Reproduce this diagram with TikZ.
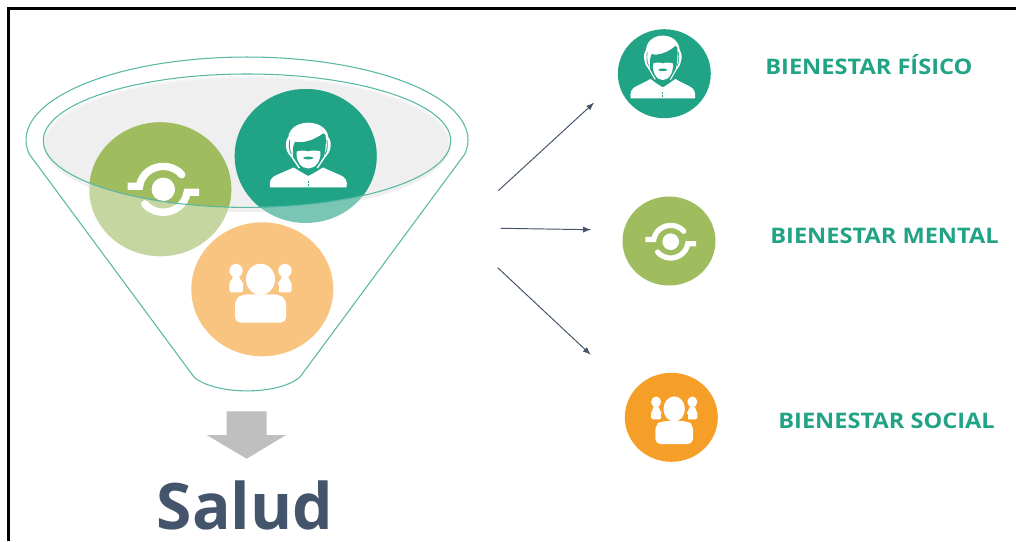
\documentclass[tikz,border=0pt]{standalone}
\usepackage{fontspec}
\setmainfont{Open Sans}
\newfontfamily\sdfont[FakeStretch=1.1]{Open Sans}
\usetikzlibrary{positioning,shapes.geometric}
\definecolor{sdteal}{RGB}{33,163,134}
\definecolor{sdteallight}{RGB}{122,198,181}
\definecolor{sdolive}{RGB}{159,188,95}
\definecolor{sdolivelight}{RGB}{197,214,160}
\definecolor{sdorange}{RGB}{245,158,40}
\definecolor{sdorangelight}{RGB}{248,196,127}
\definecolor{sdline}{RGB}{88,184,164}
\definecolor{sdslate}{RGB}{68,84,106}
\definecolor{sdgray}{RGB}{191,191,191}
\definecolor{sdfill}{RGB}{239,239,239}
\tikzset{
    bola/.style={ellipse, inner sep=0pt, minimum width=2.84cm, minimum height=2.68cm},
    bolita/.style={ellipse, inner sep=0pt, minimum width=1.86cm, minimum height=1.78cm},
    etiqueta/.style={anchor=base west, inner sep=0pt, text=sdteal, font=\sdfont\fontsize{12.2}{14}\selectfont\bfseries},
    flecha/.style={line width=0.55pt, color=sdslate, -latex},
    embudo/.style={line width=0.6pt, draw=sdline},
    pics/hombre/.style={code={
        \fill[white] (-38.3,31.3) -- (38.3,31.3) .. controls (39.5,25) and (37,21) .. (31.7,19)
            -- (13.3,11) -- (-13.3,11) -- (-31.7,19) .. controls (-37,21) and (-39.5,25) .. cycle;
        \fill[sdteal] (-15,11) -- (0,20.7) -- (15,11) -- (8,0) -- (-8,0) -- cycle;
        \draw[white, line width=#1*0.8pt] (-16.7,12.3) -- (0,20.7) -- (16.7,12.3);
        % Hair and ears
        \fill[white] (-17,1) .. controls (-23,-4) and (-24,-14) .. (-20,-19)
            .. controls (-19,-28) and (-10,-33.3) .. (0,-33.3)
            .. controls (10,-33.3) and (19,-28) .. (20,-19)
            .. controls (24,-14) and (23,-4) .. (17,1) -- cycle;
        % Face
        \fill[sdteal] (-13.3,-14.3) .. controls (-7,-12.5) and (5,-15) .. (15,-22.7) -- (17.3,-21)
            .. controls (18,-12) and (17,-3) .. (15,3) -- (9,11) -- (0,15) -- (-9,11) -- (-15,3)
            .. controls (-16,-3) and (-16,-9) .. cycle;
        \draw[white, line width=#1*0.8pt] (-17,0) -- (-9,12);
        \draw[white, line width=#1*0.8pt] (17,0) -- (9,12);
        \draw[sdteal, line width=#1*0.5pt] (-18.5,-16) .. controls (-19.5,-11) and (-19,-6) .. (-17,-2);
        \draw[sdteal, line width=#1*0.5pt] (18.5,-16) .. controls (19.5,-11) and (19,-6) .. (17,-2);
        % Beard
        \fill[white] (0,-4.6) .. controls (4,-6) and (9,-5.5) .. (12,-4.5) .. controls (13,5) and (7,12.5) .. (0,12.5)
            .. controls (-7,12.5) and (-13,5) .. (-11.5,-4.5) .. controls (-9,-5.5) and (-4,-6) .. cycle;
        \fill[sdteal] (0,2) ellipse [x radius=5.2, y radius=1.4];
        \fill[sdteal] (-0.7,24.5) rectangle (0.7,26.5);
        \fill[sdteal] (-0.7,28) rectangle (0.7,30);
    }},
    pics/ciclo/.style={code={
        \begin{scope}[scale=#1]
        \fill[white] (0,0) circle [radius=11.7];
        \foreach \giro in {0,180} {
            \begin{scope}[rotate=\giro]
            \draw[white, line width=#1*4.2pt] (-35.7,-3) -- (-23.8,-3)
                arc [start angle=187, end angle=320, x radius=24, y radius=22.7];
            \fill[white] (18.4,-14.6) circle [radius=3.7];
            \end{scope}
        }
        \end{scope}
    }},
    pics/grupo/.style={code={
        \foreach \lado in {-1,1} {
            \fill[white] (\lado*24.5,-22.7) circle [radius=6.7];
            \fill[white, rounded corners=1pt] (\lado*31.2,-1) -- (\lado*31.2,-11) -- (\lado*28,-14)
                -- (\lado*28,-18) -- (\lado*21,-18) -- (\lado*21,-14) -- (\lado*17.2,-11) -- (\lado*17.2,-1) -- cycle;
        }
        \fill[#1] (0,-14) ellipse [x radius=17, y radius=18];
        \fill[#1] (-18,-8) rectangle (18,-1);
        \fill[white] (0,-14) ellipse [x radius=14.5, y radius=15.5];
        \fill[white, rounded corners=3pt] (-25.5,29.3) -- (-25.5,6) -- (-18,1) -- (18,1) -- (25.5,6) -- (25.5,29.3) -- cycle;
    }},
}
\begin{document}
\begin{tikzpicture}[x=0.02cm, y=-0.02cm]
    \useasboundingbox (0,0) rectangle (1016,541);
    \fill[white] (0,0) rectangle (1016,541);

    % Frame
    \draw[line width=1.5pt, black] (8.5,541) -- (8.5,8.5) -- (1016,8.5);

    % Funnel
    \draw[embudo] (29.2,154) arc [start angle=170.3, end angle=369.7, x radius=221, y radius=83]
        -- (300,377) .. controls (279,395.5) and (215,395.5) .. (194,377) -- cycle;
    \fill[sdfill!60] (247,144) ellipse [x radius=204, y radius=68];
    \fill[sdfill] (247,145) ellipse [x radius=202, y radius=67];

    % Balls below the rim
    \node[bola, fill=sdolivelight] (bolamental) at (160.3,189.3) {};
    \node[bola, fill=sdteallight] (bolafisico) at (305.7,156) {};
    \node[bola, fill=sdorangelight] (bolasocial) at (262.3,289.3) {};

    % Balls inside the rim
    \begin{scope}
        \clip (247,140.7) ellipse [x radius=203.7, y radius=66.7];
        \fill[sdolive] (bolamental) ellipse [x radius=71, y radius=67];
        \fill[sdteal] (bolafisico) ellipse [x radius=71, y radius=67];
    \end{scope}

    % Icons
    \pic (iconofisico) at (308.3,156) {hombre=1};
    \pic (iconomental) at (163.3,189.3) {ciclo=1};
    \pic (iconosocial) at (260.5,293.3) {grupo=sdorangelight};

    % Rim
    \draw[embudo] (247,140.7) ellipse [x radius=203.7, y radius=66.7];

    % Down arrow
    \fill[sdgray] (226.7,411.3) -- (266.7,411.3) -- (266.7,435) -- (286,435) -- (246.7,458.7)
        -- (206.7,435) -- (226.7,435) -- cycle;
    \node[anchor=base, text=sdslate, text depth=0pt, inner sep=0pt, font=\fontsize{36.5}{40}\selectfont\bfseries] (salud) at (245,529) {Salud};

    % Small balls
    \node[bolita, fill=sdteal] (fisico) at (664.3,73.7) {};
    \node[bolita, fill=sdolive] (mental) at (669,241) {};
    \node[bolita, fill=sdorange] (social) at (671.3,417.3) {};
    \pic[xscale=0.84, yscale=0.97] (iconofisico2) at (662.8,67.9) {hombre=0.75};
    \pic (iconomental2) at (670.7,241.7) {ciclo=0.71};
    \pic[xscale=0.74, yscale=0.81] (iconosocial2) at (674.2,420.3) {grupo=sdorange};

    % Labels
    \node[etiqueta] (txtfisico) at (765,74) {BIENESTAR FÍSICO};
    \node[etiqueta] (txtmental) at (770,243.5) {BIENESTAR MENTAL};
    \node[etiqueta] (txtsocial) at (778,428.5) {BIENESTAR SOCIAL};

    % Arrows
    \coordinate (salida1) at (498.3,190.7);
    \coordinate (salida2) at (500.7,228.3);
    \coordinate (salida3) at (497.7,267.7);
    \coordinate (llegada1) at (594,102.7);
    \coordinate (llegada2) at (591,229.7);
    \coordinate (llegada3) at (590.7,354.7);
    \draw[flecha] (salida1) -- (llegada1);
    \draw[flecha] (salida2) -- (llegada2);
    \draw[flecha] (salida3) -- (llegada3);
\end{tikzpicture}
\end{document}
